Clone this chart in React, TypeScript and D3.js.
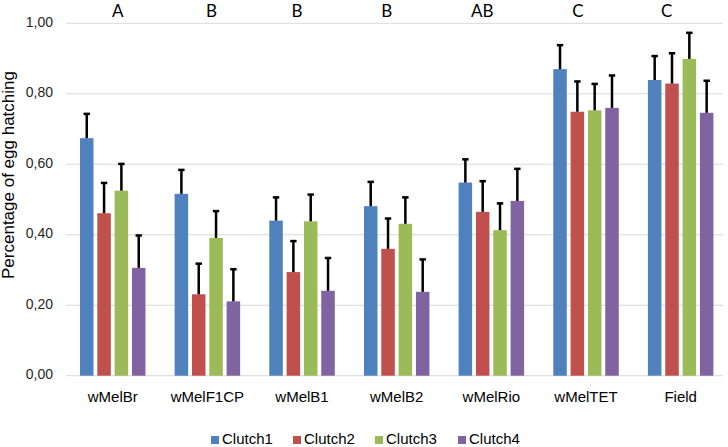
import React from "react";
import * as d3 from "d3";

const categories = ["wMelBr", "wMelF1CP", "wMelB1", "wMelB2", "wMelRio", "wMelTET", "Field"];
const seriesNames = ["Clutch1", "Clutch2", "Clutch3", "Clutch4"];
const clutch1 = [0.674, 0.516, 0.44, 0.481, 0.548, 0.87, 0.839];
const clutch2 = [0.461, 0.231, 0.294, 0.36, 0.465, 0.749, 0.829];
const clutch3 = [0.525, 0.391, 0.438, 0.431, 0.413, 0.753, 0.899];
const clutch4 = [0.306, 0.211, 0.241, 0.238, 0.496, 0.76, 0.746];
const err1 = [0.069, 0.068, 0.066, 0.069, 0.066, 0.068, 0.068];
const err2 = [0.086, 0.087, 0.088, 0.086, 0.087, 0.086, 0.086];
const err3 = [0.076, 0.076, 0.076, 0.075, 0.076, 0.075, 0.074];
const err4 = [0.092, 0.091, 0.093, 0.092, 0.091, 0.092, 0.091];
const groupLetters = ["A", "B", "B", "B", "AB", "C", "C"];
const yTicks = [0, 0.2, 0.4, 0.6, 0.8, 1.0];

const colors = ["#4f81bd", "#c0504d", "#9bbb59", "#8064a2"];
const letterOffsets = [5, 4, -5, -10, -9, -8, -14];

const W = 728;
const H = 447;

export default function App() {
  const values = [clutch1, clutch2, clutch3, clutch4];
  const errs = [err1, err2, err3, err4];
  const y = d3.scaleLinear().domain([0, 1]).range([375.7, 23.3]);
  const x = d3.scaleBand<string>().domain(categories).range([65.4, 728]).paddingInner(0).paddingOuter(0);
  const bw = x.bandwidth();
  const groupW = 65.5;
  const xs = d3
    .scaleBand<string>()
    .domain(seriesNames)
    .range([(bw - groupW) / 2, (bw + groupW) / 2])
    .paddingInner(0.22)
    .paddingOuter(0);
  const fmt = (v: number) => d3.format(".2f")(v).replace(".", ",");
  const legendX = [211, 293, 375, 458];

  return (
    <svg
      width={W}
      height={H}
      style={{ position: "absolute", left: 0, top: 0, background: "#fff" }}
      fontFamily="'Liberation Sans', Arial, sans-serif"
    >
      {yTicks.map((t) => (
        <line key={"g" + t} x1={66} x2={723} y1={y(t)} y2={y(t)} stroke="#d9d9d9" strokeWidth={1} />
      ))}
      {yTicks.map((t) => (
        <text key={"t" + t} x={53} y={y(t)} textAnchor="end" dominantBaseline="middle" fontSize={14} fill="#262626">
          {fmt(t)}
        </text>
      ))}
      <text
        transform={`translate(14,175) rotate(-90)`}
        textAnchor="middle"
        fontSize={17}
        fill="#000"
      >
        Percentage of egg hatching
      </text>
      {categories.map((c, ci) => (
        <g key={c} transform={`translate(${x(c)},0)`}>
          {seriesNames.map((s, si) => {
            const v = values[si][ci];
            const e = errs[si][ci];
            const bx = xs(s)!;
            const cx = bx + xs.bandwidth() / 2;
            return (
              <g key={s}>
                <rect x={bx} y={y(v)} width={xs.bandwidth()} height={y(0) - y(v)} fill={colors[si]} />
                <line x1={cx} x2={cx} y1={y(v)} y2={y(v + e)} stroke="#000" strokeWidth={2.5} />
                <line x1={cx - 3.2} x2={cx + 3.2} y1={y(v + e)} y2={y(v + e)} stroke="#000" strokeWidth={2.5} />
              </g>
            );
          })}
          <text x={bw / 2} y={401.5} textAnchor="middle" fontSize={15} fill="#000">
            {c}
          </text>
          <text
            x={bw / 2 + letterOffsets[ci]}
            y={17}
            textAnchor="middle"
            fontSize={17}
            fontFamily="Lato, 'Open Sans', sans-serif"
            fill="#000"
          >
            {groupLetters[ci]}
          </text>
        </g>
      ))}
      {seriesNames.map((s, si) => (
        <g key={"l" + s} transform={`translate(${legendX[si]},0)`}>
          <rect x={0} y={436} width={8} height={8} fill={colors[si]} />
          <text x={11} y={440} dominantBaseline="middle" fontSize={15} fill="#000">
            {s}
          </text>
        </g>
      ))}
    </svg>
  );
}
